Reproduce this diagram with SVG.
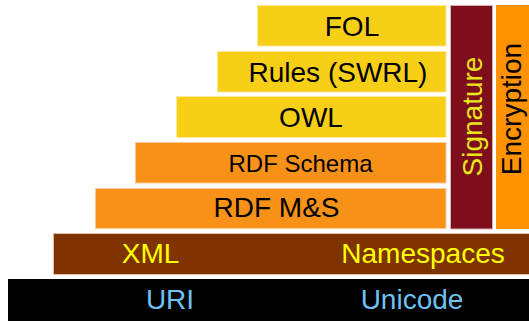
<svg xmlns="http://www.w3.org/2000/svg" width="529" height="321" viewBox="0 0 529 321">
  <style>
    text { font-family: "Liberation Sans", Arial, Helvetica, sans-serif; font-size: 28px; text-anchor: middle; }
    .yel { fill: #f7cf17; stroke: #fbe9a0; stroke-width: 1; }
    .org { fill: #f89117; stroke: #fbc99a; stroke-width: 1; }
    .brn { fill: #7f3300; stroke: #e8c0a8; stroke-width: 1; }
    .sig { fill: #7f0e1c; stroke: #d8b0b4; stroke-width: 1; }
    .enc { fill: #ff9200; }
    .blk { fill: #000000; }
    .dark { fill: #000000; }
    .ylw { fill: #ffff00; }
    .sigtxt { fill: #e8e61c; }
    .blue { fill: #6ec1f0; }
  </style>

  <!-- bottom layers -->
  <g id="uri-unicode">
    <rect class="blk" x="8" y="279" width="521" height="42"/>
    <text class="blue" x="170" y="309">URI</text>
    <text class="blue" x="412" y="309">Unicode</text>
  </g>

  <g id="xml-namespaces">
    <rect class="brn" x="53.5" y="233.5" width="476" height="41"/>
    <text class="ylw" x="150.5" y="263">XML</text>
    <text class="ylw" x="423" y="263">Namespaces</text>
  </g>

  <!-- RDF layers -->
  <g id="rdf-ms">
    <rect class="org" x="95.5" y="188.5" width="350.5" height="40"/>
    <text class="dark" x="276.5" y="217">RDF M&amp;S</text>
  </g>

  <g id="rdf-schema">
    <rect class="org" x="135.5" y="142.5" width="310.5" height="40.5"/>
    <text class="dark" x="300.5" y="172" style="font-size:24px">RDF Schema</text>
  </g>

  <!-- ontology and logic layers -->
  <g id="owl">
    <rect class="yel" x="176.5" y="96.5" width="269.5" height="41"/>
    <text class="dark" x="311" y="127">OWL</text>
  </g>

  <g id="rules">
    <rect class="yel" x="217.5" y="51.5" width="228.5" height="40.5"/>
    <text class="dark" x="338" y="82">Rules (SWRL)</text>
  </g>

  <g id="fol">
    <rect class="yel" x="257.5" y="5.5" width="188.5" height="40.5"/>
    <text class="dark" x="352" y="36">FOL</text>
  </g>

  <!-- vertical side columns -->
  <g id="signature">
    <rect class="sig" x="450.5" y="5.5" width="42" height="223.5"/>
    <text class="sigtxt" transform="translate(482,116.5) rotate(-90)">Signature</text>
  </g>

  <g id="encryption">
    <rect class="enc" x="496" y="5" width="33" height="224"/>
    <text class="dark" transform="translate(521,109) rotate(-90)">Encryption</text>
  </g>

  <!-- the stack has no connectors -->
  <g id="connectors"/>
</svg>
